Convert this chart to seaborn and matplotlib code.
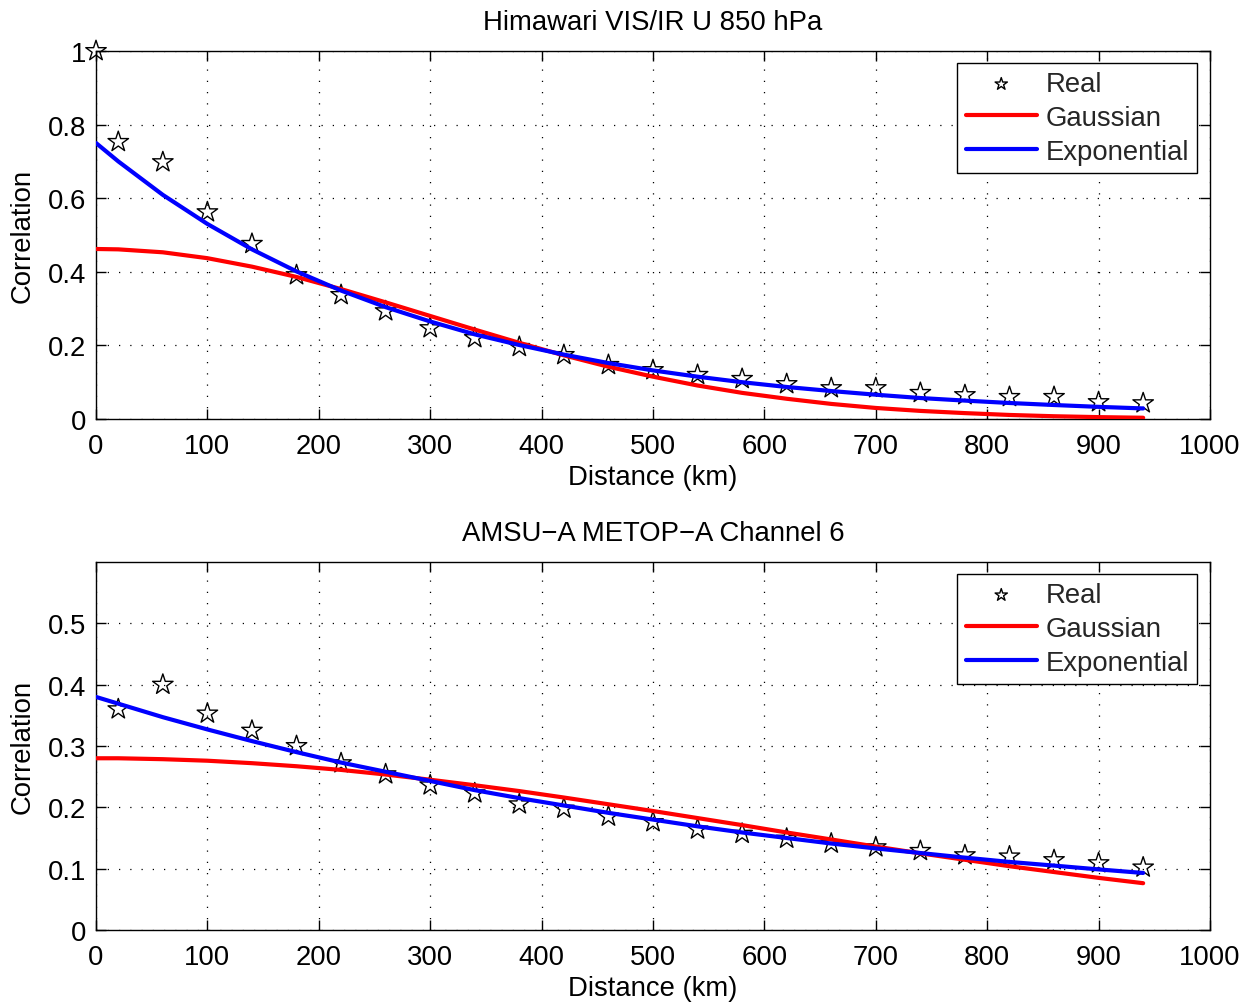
import matplotlib
matplotlib.use("Agg")
import matplotlib.pyplot as plt
import seaborn as sns
import numpy as np

# ---------------- data ----------------
dist_top = [0, 20, 60, 100, 140, 180, 220, 260, 300, 340, 380, 420, 460, 500,
            540, 580, 620, 660, 700, 740, 780, 820, 860, 900, 940]
real_top = [1.000, 0.753, 0.698, 0.562, 0.476, 0.391, 0.337, 0.293, 0.247, 0.220,
            0.196, 0.174, 0.147, 0.133, 0.120, 0.109, 0.095, 0.084, 0.084, 0.071,
            0.065, 0.060, 0.060, 0.046, 0.043]
gauss_top = [0.462, 0.461, 0.453, 0.437, 0.414, 0.386, 0.353, 0.317, 0.280, 0.243,
             0.207, 0.173, 0.142, 0.115, 0.091, 0.071, 0.055, 0.041, 0.030, 0.022,
             0.016, 0.011, 0.0075, 0.0051, 0.0034]
expo_top = [0.750, 0.700, 0.609, 0.530, 0.461, 0.401, 0.349, 0.304, 0.265, 0.230,
            0.201, 0.175, 0.152, 0.132, 0.115, 0.100, 0.087, 0.076, 0.066, 0.057,
            0.050, 0.0435, 0.038, 0.033, 0.0287]

dist_bot = [0, 20, 60, 100, 140, 180, 220, 260, 300, 340, 380, 420, 460, 500,
            540, 580, 620, 660, 700, 740, 780, 820, 860, 900, 940]
real_bot_x = dist_bot[1:]
real_bot = [0.360, 0.400, 0.353, 0.325, 0.300, 0.272, 0.254, 0.236, 0.223, 0.205,
            0.198, 0.185, 0.176, 0.164, 0.157, 0.149, 0.141, 0.135, 0.129, 0.122,
            0.120, 0.114, 0.109, 0.102]
gauss_bot = [0.280, 0.280, 0.2785, 0.276, 0.272, 0.267, 0.261, 0.2535, 0.245, 0.236,
             0.2265, 0.216, 0.205, 0.194, 0.1825, 0.171, 0.159, 0.1476, 0.136, 0.125,
             0.1145, 0.104, 0.0945, 0.085, 0.0763]
expo_bot = [0.380, 0.369, 0.347, 0.327, 0.308, 0.290, 0.273, 0.258, 0.243, 0.228,
            0.215, 0.203, 0.191, 0.180, 0.169, 0.159, 0.150, 0.141, 0.133, 0.1255,
            0.118, 0.111, 0.105, 0.0988, 0.093]

titles = ["Himawari VIS/IR U 850 hPa", "AMSU\u2212A METOP\u2212A Channel 6"]
xticks = [0, 100, 200, 300, 400, 500, 600, 700, 800, 900, 1000]
yticks_top = [0, 0.2, 0.4, 0.6, 0.8, 1.0]
ytick_labels_top = ["0", "0.2", "0.4", "0.6", "0.8", "1"]
yticks_bot = [0, 0.1, 0.2, 0.3, 0.4, 0.5]
ytick_labels_bot = ["0", "0.1", "0.2", "0.3", "0.4", "0.5"]

# ---------------- style ----------------
sns.set_theme(style="white")
plt.rcParams["font.family"] = ["Liberation Sans", "DejaVu Sans"]
FS = 19.8

fig = plt.figure(figsize=(12.52, 10.04), dpi=100)
W, H = 1252, 1004
ax_top = fig.add_axes([96 / W, 1 - 420 / H, 1114 / W, 368 / H])
ax_bot = fig.add_axes([96 / W, 1 - 931 / H, 1114 / W, 368 / H])

panels = [
    (ax_top, dist_top, real_top, dist_top, gauss_top, expo_top, (0, 1), yticks_top, ytick_labels_top),
    (ax_bot, real_bot_x, real_bot, dist_bot, gauss_bot, expo_bot, (0, 0.6), yticks_bot, ytick_labels_bot),
]

for i, (ax, rx, ry, dx, g, e, ylim, yt, ytl) in enumerate(panels):
    sns.scatterplot(x=rx, y=ry, marker="*", s=240, facecolor="none",
                    edgecolor="black", linewidth=1.0, ax=ax, label="Real",
                    zorder=3, clip_on=False)
    sns.lineplot(x=dx, y=g, color="#ff0000", linewidth=3, ax=ax,
                 label="Gaussian", zorder=4)
    sns.lineplot(x=dx, y=e, color="#0000ff", linewidth=3, ax=ax,
                 label="Exponential", zorder=5)

    ax.set_xlim(0, 1000)
    ax.set_ylim(*ylim)
    ax.set_xticks(xticks)
    ax.set_xticklabels([str(t) for t in xticks])
    ax.set_yticks(yt)
    ax.set_yticklabels(ytl)
    ax.tick_params(direction="in", length=7, width=1, top=True, right=True,
                   labelsize=FS, colors="black", bottom=True, left=True)
    ax.tick_params(axis="x", pad=10)
    ax.tick_params(axis="y", pad=7)
    ax.grid(True, color="black", linestyle=(0, (1, 8)), linewidth=0.9)
    for sp in ax.spines.values():
        sp.set_color("black")
        sp.set_linewidth(1.0)
    ax.set_xlabel("Distance (km)", fontsize=FS, labelpad=4, color="black")
    ax.set_ylabel("Correlation", fontsize=FS, labelpad=9, color="black")
    ax.set_title(titles[i], fontsize=FS, pad=16, color="black")

    leg = ax.legend(loc="upper right",
                    bbox_to_anchor=((1197 - 96) / 1114, 1 - 12 / 368),
                    borderaxespad=0, fontsize=FS, frameon=True, fancybox=False,
                    edgecolor="black", framealpha=1, handlelength=2.6,
                    labelspacing=0.28, handletextpad=0.3, borderpad=0.3,
                    markerscale=0.6)
    leg.get_frame().set_linewidth(1.0)

fig.savefig("out.png", dpi=100, facecolor="white")
